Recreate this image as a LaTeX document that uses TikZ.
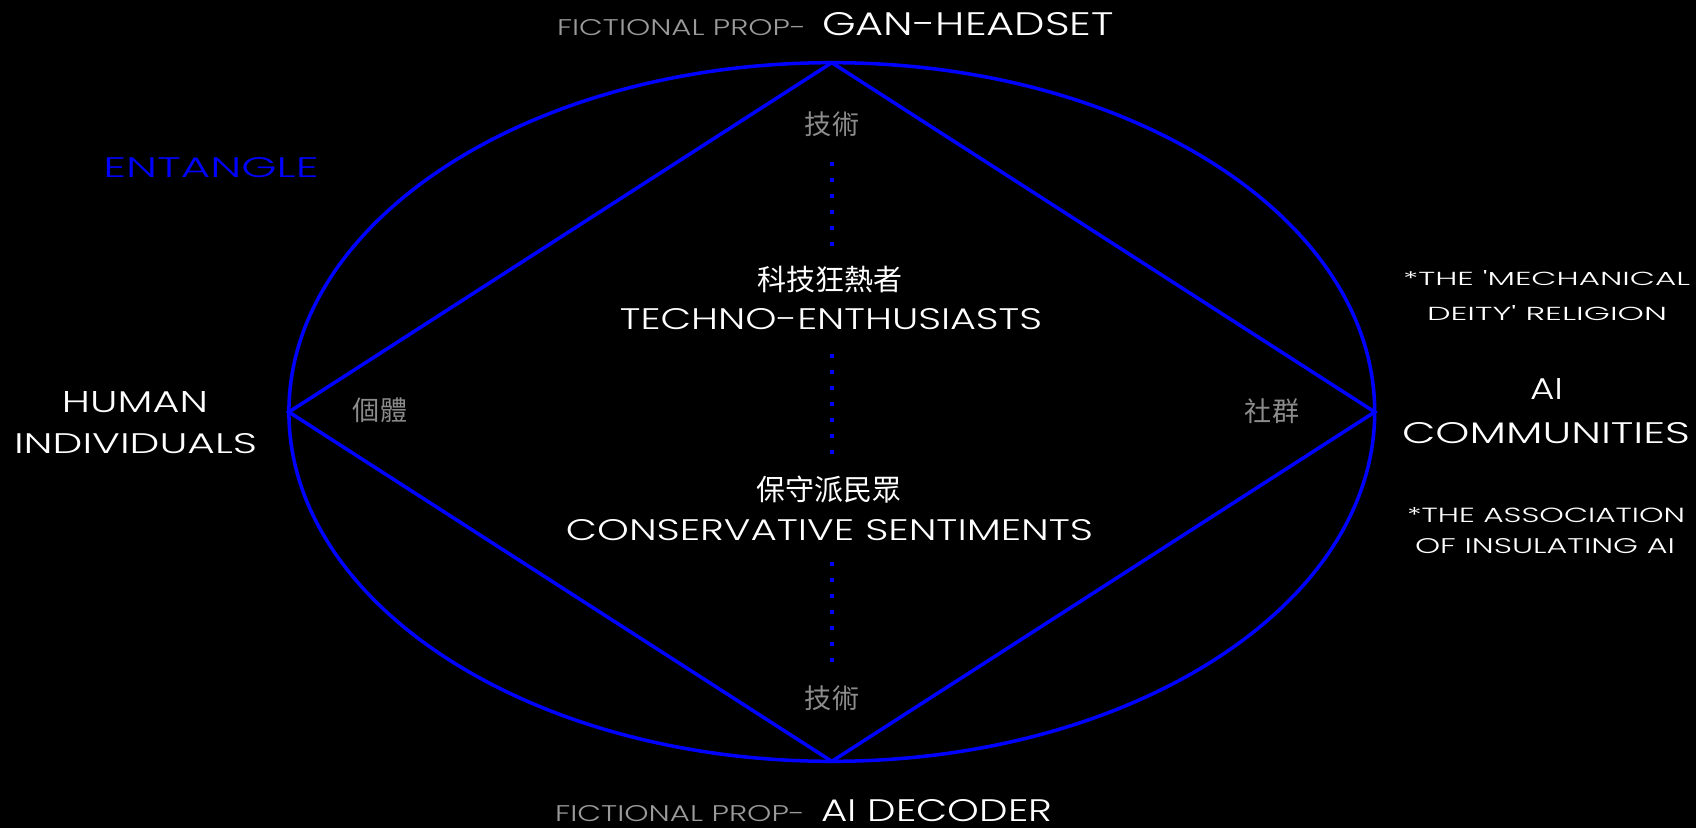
\documentclass[tikz,border=0pt]{standalone}
\usepackage{fontspec}
\usepackage{graphicx}
\usetikzlibrary{shapes.geometric}
\newfontfamily\disp{Poppins}[UprightFont={* Light}]
\newfontfamily\cjk{Noto Sans CJK TC}
\newlength\pxu \setlength\pxu{0.02cm}
\newcommand\fittext[3]{\resizebox{#1\pxu}{#2\pxu}{\disp #3}}
\definecolor{txtgray}{HTML}{8C8C8C}
\definecolor{propgray}{HTML}{9A9A9A}
\definecolor{lineblue}{HTML}{0000FF}
\begin{document}
\begin{tikzpicture}[x=0.02cm,y=-0.02cm,
  shapeline/.style={draw=lineblue, line width=2pt},
  dotline/.style={draw=lineblue, line width=0.08cm, dash pattern=on 0.08cm off 0.24cm},
  lbl/.style={inner sep=0pt, outer sep=0pt, anchor=base, text=white},
  cj/.style={inner sep=0pt, anchor=center, text=txtgray, font=\cjk\fontsize{15.4pt}{16pt}\selectfont},
  cjw/.style={inner sep=0pt, anchor=center, text=white, font=\cjk\fontsize{16.5pt}{17pt}\selectfont}]
\fill[black] (0,0) rectangle (1696,828);
\useasboundingbox (0,0) rectangle (1696,828);
% ellipse and diamond
\node[ellipse, shapeline, minimum width=21.72cm, minimum height=13.976cm, inner sep=0pt, outer sep=0pt] (E) at (831.8,412) {};
\draw[shapeline, line join=miter] (E.north) -- (E.east) -- (E.south) -- (E.west) -- cycle;
% dotted axis
\coordinate (t1) at (832,162); \coordinate (t2) at (832,246);
\coordinate (m1) at (832,354); \coordinate (m2) at (832,454);
\coordinate (b1) at (832,562); \coordinate (b2) at (832,662);
\draw[dotline] (t1) -- (t2);
\draw[dotline] (m1) -- (m2);
\draw[dotline] (b1) -- (b2);
% titles
\node[lbl, anchor=base west] (top) at (557,36) {{\color{propgray}\fittext{249}{16}{FICTIONAL PROP-}}\hspace{16\pxu}\fittext{292}{23}{GAN-HEADSET}};
\node[lbl, anchor=base west] (bot) at (555,821) {{\color{propgray}\fittext{250}{16}{FICTIONAL PROP-}}\hspace{16\pxu}\fittext{231}{22}{AI DECODER}};
\node[lbl, text=lineblue] (ent) at (211,177) {\fittext{215}{20}{ENTANGLE}};
% left
\node[lbl] (hum) at (135,412) {\fittext{146}{21}{HUMAN}};
\node[lbl] (ind) at (135.5,453) {\fittext{243}{20}{INDIVIDUALS}};
% center
\node[cj] (tech1) at (832,124) {技術};
\node[cjw] (zh1) at (830,279) {科技狂熱者};
\node[lbl] (en1) at (831,329) {\fittext{422}{21}{TECHNO-ENTHUSIASTS}};
\node[cjw] (zh2) at (829,490) {保守派民眾};
\node[lbl] (en2) at (829.5,540) {\fittext{527}{21}{CONSERVATIVE SENTIMENTS}};
\node[cj] (tech2) at (832,698) {技術};
\node[cj] (indiv) at (380,410) {個體};
\node[cj] (comm) at (1272,411) {社群};
% right
\node[lbl] (r1) at (1546.5,285) {\fittext{287}{15}{*THE 'MECHANICAL}};
\node[lbl] (r2) at (1547,320) {\fittext{240}{15}{DEITY' RELIGION}};
\node[lbl] (r3) at (1546.5,399) {\fittext{33}{21}{AI}};
\node[lbl] (r4) at (1546,443) {\fittext{288}{21}{COMMUNITIES}};
\node[lbl] (r5) at (1546,522) {\fittext{278}{15}{*THE ASSOCIATION}};
\node[lbl] (r6) at (1545,553) {\fittext{260}{15}{OF INSULATING AI}};
\end{tikzpicture}
\end{document}
